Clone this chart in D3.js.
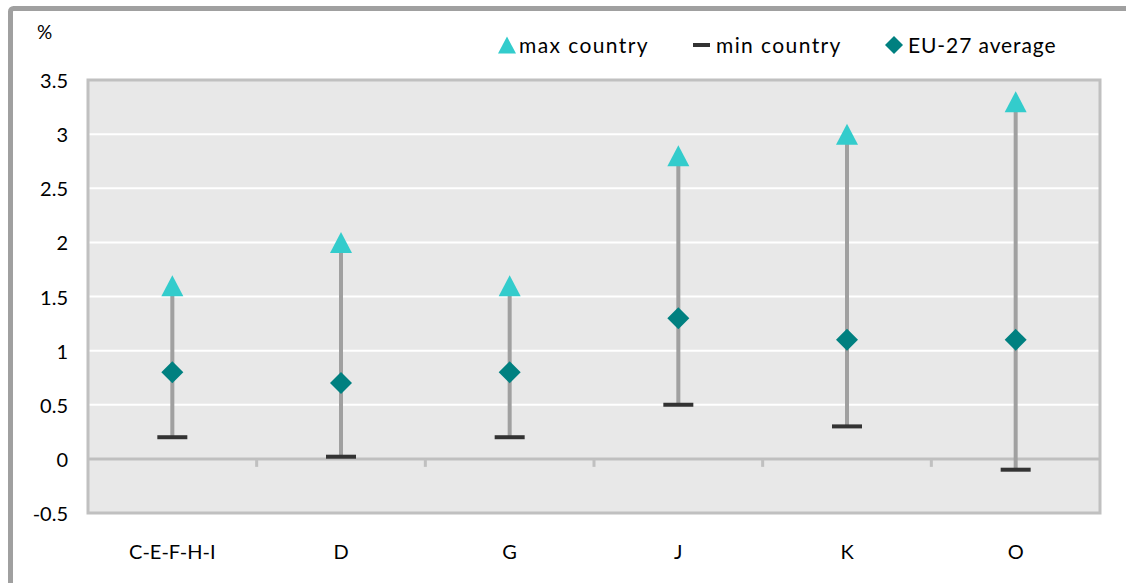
<!DOCTYPE html>
<html>
<head>
<meta charset="utf-8">
<script src="https://cdn.jsdelivr.net/npm/d3@7"></script>
<style>
  html, body { margin: 0; padding: 0; background: #fff; }
  svg { display: block; font-family: Lato, "Open Sans", sans-serif; }
</style>
</head>
<body>
<svg id="chart" width="1126" height="583"></svg>
<script>
// Sector ranges: highest country, lowest country and EU-27 average (%)
const categories = ["C-E-F-H-I", "D", "G", "J", "K", "O"];
const maxCountry = [1.6, 2.0, 1.6, 2.8, 3.0, 3.3];
const minCountry = [0.2, 0.02, 0.2, 0.5, 0.3, -0.1];
const euAverage  = [0.8, 0.7, 0.8, 1.3, 1.1, 1.1];
const yTicks = [-0.5, 0, 0.5, 1, 1.5, 2, 2.5, 3, 3.5];
const seriesNames = ["max country", "min country", "EU-27 average"];

const colors = { max: "#33cccc", min: "#333333", avg: "#008080", stem: "#a0a0a0" };

const svg = d3.select("#chart");
const plot = { left: 88, right: 1100, top: 80, bottom: 513 };

const x = d3.scaleBand().domain(categories).range([plot.left, plot.right]);
const y = d3.scaleLinear().domain([-0.5, 3.5]).range([plot.bottom, plot.top]);

// Outer frame (extends past the visible area on the right and bottom)
svg.append("rect")
  .attr("x", 10.5).attr("y", 8.5).attr("width", 1300).attr("height", 700)
  .attr("rx", 3)
  .attr("fill", "none").attr("stroke", "#a0a0a0").attr("stroke-width", 5);

// Plot background
svg.append("rect")
  .attr("x", plot.left).attr("y", plot.top)
  .attr("width", plot.right - plot.left).attr("height", plot.bottom - plot.top)
  .attr("fill", "#e8e8e8");

// Horizontal gridlines
svg.append("g").selectAll("line")
  .data(yTicks.filter(v => v !== 0 && v !== -0.5 && v !== 3.5))
  .join("line")
  .attr("x1", plot.left).attr("x2", plot.right)
  .attr("y1", d => y(d)).attr("y2", d => y(d))
  .attr("stroke", "#ffffff").attr("stroke-width", 2);

// Plot border
svg.append("rect")
  .attr("x", plot.left).attr("y", plot.top)
  .attr("width", plot.right - plot.left).attr("height", plot.bottom - plot.top)
  .attr("fill", "none").attr("stroke", "#c0c0c0").attr("stroke-width", 3);

// Zero line as category axis with ticks at band boundaries
svg.append("line")
  .attr("x1", plot.left).attr("x2", plot.right)
  .attr("y1", y(0)).attr("y2", y(0))
  .attr("stroke", "#bfbfbf").attr("stroke-width", 3);

svg.append("g").selectAll("line")
  .data(categories.slice(1))
  .join("line")
  .attr("x1", d => x(d)).attr("x2", d => x(d))
  .attr("y1", y(0)).attr("y2", y(0) + 8)
  .attr("stroke", "#c0c0c0").attr("stroke-width", 3);

// Y axis labels
svg.append("g").selectAll("text")
  .data(yTicks)
  .join("text")
  .attr("x", 68).attr("y", d => y(d) + 8)
  .attr("text-anchor", "end")
  .attr("font-size", 20).attr("fill", "#000")
  .text(d => String(d));

svg.append("text")
  .attr("x", 37).attr("y", 39)
  .attr("font-size", 19).attr("fill", "#000")
  .text("%");

// Category labels
svg.append("g").selectAll("text")
  .data(categories)
  .join("text")
  .attr("x", d => x(d) + x.bandwidth() / 2)
  .attr("y", 559)
  .attr("text-anchor", "middle")
  .attr("font-size", 20).attr("fill", "#000")
  .text(d => d);

const rows = categories.map((c, i) => ({
  cat: c, max: maxCountry[i], min: minCountry[i], avg: euAverage[i]
}));
const cx = d => x(d.cat) + x.bandwidth() / 2;

const triPath = (w, h) => `M0,${-h / 2}L${w / 2},${h / 2}L${-w / 2},${h / 2}Z`;
const diaPath = r => `M0,${-r}L${r},0L0,${r}L${-r},0Z`;

// Stems from max to min
svg.append("g").selectAll("line")
  .data(rows)
  .join("line")
  .attr("x1", cx).attr("x2", cx)
  .attr("y1", d => y(d.max)).attr("y2", d => y(d.min))
  .attr("stroke", colors.stem).attr("stroke-width", 4);

// Min markers
svg.append("g").selectAll("rect")
  .data(rows)
  .join("rect")
  .attr("x", d => cx(d) - 15).attr("y", d => y(d.min) - 2)
  .attr("width", 30).attr("height", 4)
  .attr("fill", colors.min);

// Average markers
svg.append("g").selectAll("path")
  .data(rows)
  .join("path")
  .attr("transform", d => `translate(${cx(d)},${y(d.avg)})`)
  .attr("d", diaPath(11))
  .attr("fill", colors.avg);

// Max markers
svg.append("g").selectAll("path")
  .data(rows)
  .join("path")
  .attr("transform", d => `translate(${cx(d)},${y(d.max)})`)
  .attr("d", triPath(22, 21))
  .attr("fill", colors.max);

// Legend
const legend = svg.append("g").attr("font-size", 21).attr("fill", "#000");
const legendY = 45;
legend.append("path")
  .attr("transform", `translate(507,${legendY})`)
  .attr("d", triPath(18, 17)).attr("fill", colors.max);
legend.append("text").attr("x", 519).attr("y", legendY + 8)
  .attr("letter-spacing", 1.4).text(seriesNames[0]);
legend.append("rect")
  .attr("x", 693).attr("y", legendY - 2).attr("width", 17).attr("height", 4)
  .attr("fill", colors.min);
legend.append("text").attr("x", 716).attr("y", legendY + 8)
  .attr("letter-spacing", 1.4).text(seriesNames[1]);
legend.append("path")
  .attr("transform", `translate(894,${legendY})`)
  .attr("d", diaPath(9)).attr("fill", colors.avg);
legend.append("text").attr("x", 908).attr("y", legendY + 8)
  .attr("letter-spacing", 0.9).text(seriesNames[2]);
</script>
</body>
</html>
